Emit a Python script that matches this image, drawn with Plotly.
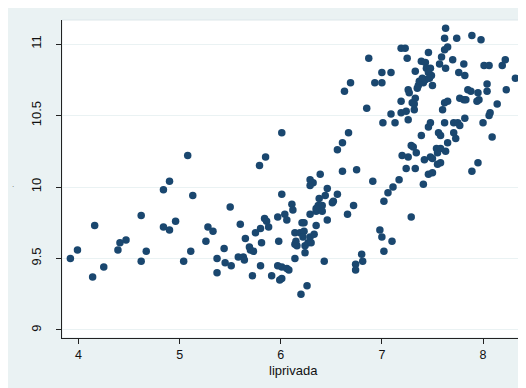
import plotly.graph_objects as go

lprivada = [
    3.92, 3.99, 4.14, 4.16, 4.25, 4.39, 4.41, 4.47, 4.62, 4.62, 4.67, 4.84, 4.90, 4.84, 4.90, 4.96,
    5.13, 5.04, 5.11, 5.08, 5.50, 5.26, 5.28, 5.33, 5.37, 5.37, 5.44, 5.45, 5.51, 5.60, 5.58, 5.63,
    5.64, 5.65, 5.69, 5.70, 5.73, 5.72, 5.75, 5.80, 5.81, 5.80, 5.84, 5.86, 5.88, 5.91, 5.97, 5.98,
    5.97, 6.01, 5.99, 6.01, 6.01, 6.04, 6.06, 6.06, 6.08, 6.11, 6.12, 6.14, 6.14, 6.15, 6.14, 6.16,
    6.20, 6.26, 6.24, 6.21, 6.23, 6.19, 6.23, 6.22, 6.24, 6.27, 6.29, 6.30, 6.33, 6.35, 6.29, 6.35,
    6.37, 6.38, 6.41, 6.44, 6.46, 6.51, 6.52, 6.56, 6.46, 6.43, 6.66,
    5.79, 5.85, 6.01, 6.29, 6.32, 6.29, 6.39, 6.61, 6.75, 6.91, 6.72, 6.35, 6.41, 6.80, 6.81, 6.74, 6.74,
    6.56, 6.61, 6.67, 6.63, 6.69,
    7.17, 7.41, 7.11, 7.06, 7.02, 7.29, 6.98, 7.00, 7.10, 7.02,
    6.85, 6.87, 6.93, 7.00, 7.00, 7.09, 7.01, 7.09, 7.13, 7.19, 7.23,
    7.25, 7.19, 7.19, 7.24, 7.26, 7.32, 7.30, 7.32, 7.26, 7.27, 7.33, 7.35, 7.36, 7.37, 7.39, 7.43,
    7.46, 7.38, 7.41, 7.40, 7.43, 7.44, 7.48, 7.46, 7.49, 7.47, 7.50, 7.33,
    7.60, 7.62, 7.65, 7.39, 7.46, 7.48, 7.56, 7.58, 7.62, 7.65, 7.71, 7.73, 7.71, 7.75, 7.77, 7.82,
    8.00, 8.09,
    7.29, 7.31, 7.34, 7.20, 7.26, 7.42, 7.48, 7.50, 7.54, 7.58, 7.55, 7.63, 7.24, 7.33, 7.55, 7.58,
    7.46, 7.50, 7.89, 7.95,
    7.63, 7.62, 7.74, 7.62, 7.65, 7.89, 7.98, 7.70, 7.59, 7.57, 7.63, 7.81, 7.76, 7.82, 8.01, 8.06,
    8.19, 8.22, 8.32, 7.85, 7.88, 7.95, 8.04, 8.04, 7.77, 7.81, 7.83, 7.96, 7.94, 8.23, 8.14, 8.07, 8.06,
]

outcome = [
    9.50, 9.56, 9.37, 9.73, 9.44, 9.56, 9.61, 9.63, 9.80, 9.48, 9.55, 9.98, 10.04, 9.72, 9.70, 9.76,
    9.94, 9.48, 9.55, 10.22, 9.86, 9.62, 9.72, 9.69, 9.50, 9.40, 9.57, 9.47, 9.45, 9.74, 9.51, 9.51,
    9.49, 9.64, 9.58, 9.56, 9.55, 9.38, 9.68, 9.71, 9.61, 9.45, 9.78, 9.76, 9.72, 9.38, 9.79, 9.62,
    9.45, 9.44, 9.35, 9.36, 9.95, 9.81, 9.77, 9.43, 9.42, 9.88, 9.84, 9.50, 9.68, 9.62, 9.60, 9.59,
    9.25, 9.31, 9.54, 9.75, 9.75, 9.68, 9.69, 9.65, 9.59, 9.61, 9.65, 9.61, 9.67, 9.73, 9.81, 9.83,
    9.87, 9.92, 9.87, 9.94, 9.99, 9.89, 9.90, 9.95, 9.77, 9.48, 9.81,
    10.15, 10.21, 10.38, 10.05, 10.03, 10.01, 10.09, 10.11, 10.12, 10.04, 9.87, 9.85, 9.83, 9.53, 9.48, 9.46, 9.42,
    10.26, 10.31, 10.38, 10.67, 10.73,
    10.05, 10.02, 10.00, 9.96, 9.90, 9.79, 9.70, 9.65, 9.62, 9.55,
    10.55, 10.90, 10.73, 10.73, 10.80, 10.80, 10.45, 10.51, 10.45, 10.97, 10.97,
    10.90, 10.60, 10.52, 10.53, 10.47, 10.54, 10.59, 10.58, 10.68, 10.66, 10.81, 10.69, 10.71, 10.74, 10.88, 10.87,
    10.94, 10.74, 10.73, 10.76, 10.75, 10.83, 10.83, 10.80, 10.78, 10.76, 10.71, 10.62,
    10.54, 10.59, 10.60, 10.36, 10.42, 10.45, 10.38, 10.36, 10.45, 10.31, 10.38, 10.34, 10.45, 10.45, 10.43, 10.48,
    10.45, 10.35,
    10.29, 10.28, 10.24, 10.22, 10.21, 10.19, 10.21, 10.20, 10.27, 10.27, 10.24, 10.25, 10.13, 10.13, 10.16, 10.17,
    10.09, 10.10, 10.11, 10.17,
    11.11, 11.04, 11.04, 10.96, 10.98, 11.06, 11.03, 10.89, 10.91, 10.86, 10.83, 10.86, 10.80, 10.78, 10.85, 10.85,
    10.85, 10.89, 10.76, 10.68, 10.67, 10.66, 10.72, 10.67, 10.62, 10.61, 10.61, 10.61, 10.60, 10.68, 10.58, 10.52, 10.50,
]

x_ticks = [4, 5, 6, 7, 8]
y_ticks = [9, 9.5, 10, 10.5, 11]
y_tick_labels = ["9", "9.5", "10", "10.5", "11"]
x_title = "liprivada"

BG = "#eaf2f3"
NAVY = "#1a476f"
FONT = "Liberation Sans, Arial, sans-serif"

fig = go.Figure()
fig.add_trace(go.Scatter(
    x=lprivada, y=outcome, mode="markers",
    marker=dict(color=NAVY, size=7.5, line=dict(width=0)),
    showlegend=False, hoverinfo="x+y",
))

# page body adds an 8px offset; figure fills the rest of the 526x388 window
W, H = 518, 380
L, R, T, B = 54, 1, 12, 50
pw, ph = W - L - R, H - T - B

def px(xp):
    return (xp - L) / pw

def py(yp):
    return (H - B - yp) / ph

shapes = [
    dict(type="rect", xref="paper", yref="paper", x0=0, x1=1, y0=0, y1=1,
         fillcolor="rgba(0,0,0,0)", line=dict(color="#dde7ea", width=1), layer="below"),
]

fig.update_layout(
    width=W, height=H,
    margin=dict(l=L, r=R, t=T, b=B, autoexpand=False),
    paper_bgcolor=BG, plot_bgcolor="white",
    font=dict(family=FONT, size=13, color="#111111"),
    shapes=shapes,
    annotations=[
        dict(text=x_title, xref="paper", yref="paper", x=0.5, y=py(362),
             showarrow=False, font=dict(size=13, color="#111111"), yanchor="middle",
             borderpad=0),
        dict(text=".", xref="paper", yref="paper", x=px(2), y=py(176),
             showarrow=False, font=dict(size=8, color="#666666")),
    ],
    xaxis=dict(
        range=[3.837, 8.415], tickvals=x_ticks, ticktext=[str(v) for v in x_ticks],
        showgrid=False, zeroline=False, showline=True, linecolor="#222222", linewidth=1,
        ticks="outside", ticklen=5, tickcolor="#222222", tickwidth=1,
        tickfont=dict(size=12.5), automargin=False,
    ),
    yaxis=dict(
        range=[8.944, 11.168], tickvals=y_ticks, ticktext=y_tick_labels,
        showgrid=True, gridcolor=BG, gridwidth=1, zeroline=False,
        showline=True, linecolor="#222222", linewidth=1,
        ticks="outside", ticklen=5, tickcolor="#222222", tickwidth=1,
        tickangle=-90, tickfont=dict(size=13), ticklabelstandoff=10, automargin=False,
    ),
)

fig.write_html("out.html")
